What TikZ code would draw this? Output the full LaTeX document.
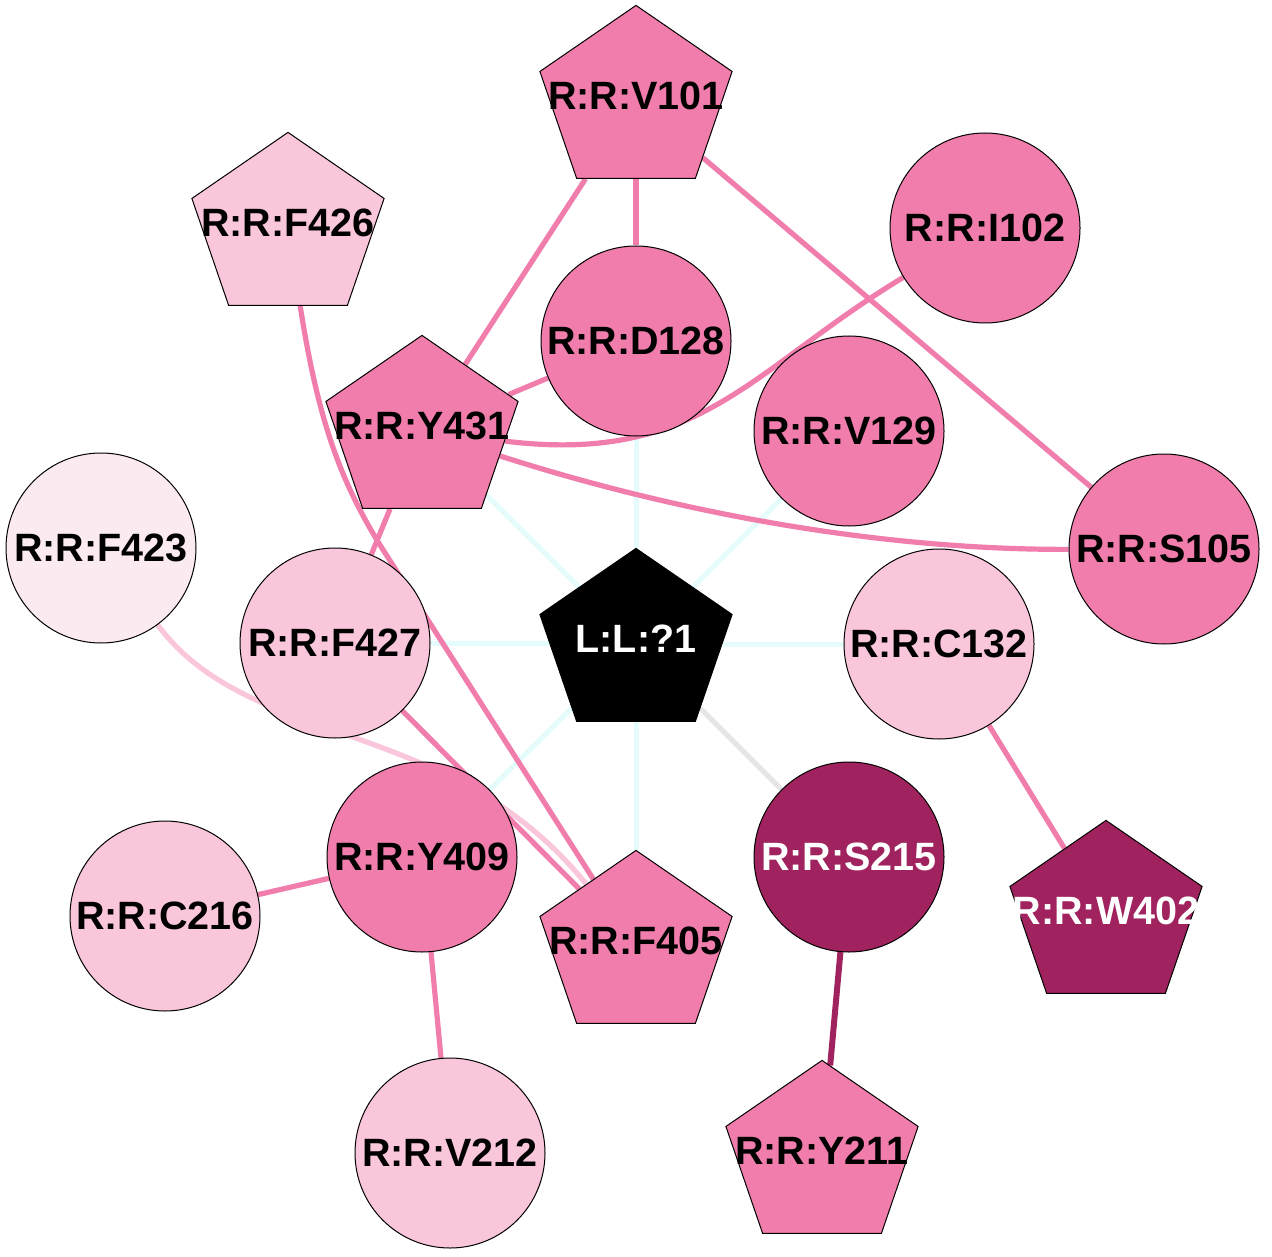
\documentclass[tikz,border=0pt]{standalone}
\usepackage{fontspec}
\setmainfont{Liberation Sans}
\usetikzlibrary{shapes.geometric,backgrounds}
\definecolor{pinkmid}{RGB}{240,125,171}
\definecolor{pinklight}{RGB}{249,198,219}
\definecolor{pinkpale}{RGB}{252,234,241}
\definecolor{plum}{RGB}{160,34,94}
\definecolor{cyanline}{RGB}{228,252,252}
\definecolor{grayline}{RGB}{230,230,230}
\begin{document}
\begin{tikzpicture}[x=0.5pt,y=-0.5pt,
                circ node/.style={circle,draw,line width=0.5pt,inner sep=0pt,minimum size=95pt},
                pent node/.style={regular polygon,regular polygon sides=5,draw,line width=0.5pt,inner sep=0pt,
                  minimum size=95.6pt,xscale=1.057,transform shape},
                every label/.style={font=\fontsize{19.75}{24}\selectfont\bfseries,inner sep=0pt},
                pent label/.style={yshift=2.5pt},
                link/.style={line width=2.6pt,pinkmid},
                lig link/.style={line width=2.5pt,cyanline}]
  \useasboundingbox (0,0) rectangle (1272,1256);

  \node[pent node,fill=black,label={[white,pent label]center:{L:L:?1}}] (L1) at (636,644) {};
  \node[pent node,fill=pinkmid,label={[pent label]center:{R:R:V101}}] (V101) at (636,101) {};
  \node[pent node,fill=pinklight,label={[pent label]center:{R:R:F426}}] (F426) at (288,228) {};
  \node[circ node,fill=pinkmid,label={center:{R:R:I102}}] (I102) at (985,228) {};
  \node[circ node,fill=pinkmid,label={center:{R:R:D128}}] (D128) at (636,341) {};
  \node[pent node,fill=pinkmid,label={[pent label]center:{R:R:Y431}}] (Y431) at (422,431) {};
  \node[circ node,fill=pinkmid,label={center:{R:R:V129}}] (V129) at (849,431) {};
  \node[circ node,fill=pinkpale,label={center:{R:R:F423}}] (F423) at (101,548) {};
  \node[circ node,fill=pinkmid,label={center:{R:R:S105}}] (S105) at (1164,549) {};
  \node[circ node,fill=pinklight,label={center:{R:R:F427}}] (F427) at (335,643) {};
  \node[circ node,fill=pinklight,label={center:{R:R:C132}}] (C132) at (939,644) {};
  \node[circ node,fill=pinkmid,label={center:{R:R:Y409}}] (Y409) at (422,857) {};
  \node[circ node,fill=plum,label={[white]center:{R:R:S215}}] (S215) at (849,857) {};
  \node[circ node,fill=pinklight,label={center:{R:R:C216}}] (C216) at (165,916) {};
  \node[pent node,fill=pinkmid,label={[pent label]center:{R:R:F405}}] (F405) at (636,946) {};
  \node[pent node,fill=plum,label={[white,pent label]center:{R:R:W402}}] (W402) at (1106,916) {};
  \node[circ node,fill=pinklight,label={center:{R:R:V212}}] (V212) at (450,1153) {};
  \node[pent node,fill=pinkmid,label={[pent label]center:{R:R:Y211}}] (Y211) at (822,1156) {};

  \begin{scope}[on background layer]
    \path[lig link]
      (L1) edge (D128)
      (L1) edge (V129)
      (L1) edge (Y431)
      (L1) edge (F427)
      (L1) edge (C132)
      (L1) edge (Y409)
      (L1) edge (F405)
    ;
    \draw[line width=2.5pt,grayline] (L1) -- (S215);
    \path[link]
      (V101) edge (D128)
      (V101) edge (Y431)
      (V101) edge (S105)
      (D128) edge (Y431)
      (Y431) edge (F427)
      (F427) edge (F405)
      (Y409) edge (C216)
      (Y409) edge (V212)
      (C132) edge (W402)
    ;
    \draw[link] (I102) .. controls (750,370) and (700,465) .. (Y431);
    \draw[link] (Y431) .. controls (700,520) and (900,550) .. (S105);
    \draw[link] (F426) .. controls (318,420) and (340,480) .. (380,545) -- (F405);
    \draw[link,pinklight] (F423) .. controls (250,750) and (450,715) .. (F405);
    \draw[line width=3pt,plum] (S215) -- (Y211);
  \end{scope}
\end{tikzpicture}
\end{document}
